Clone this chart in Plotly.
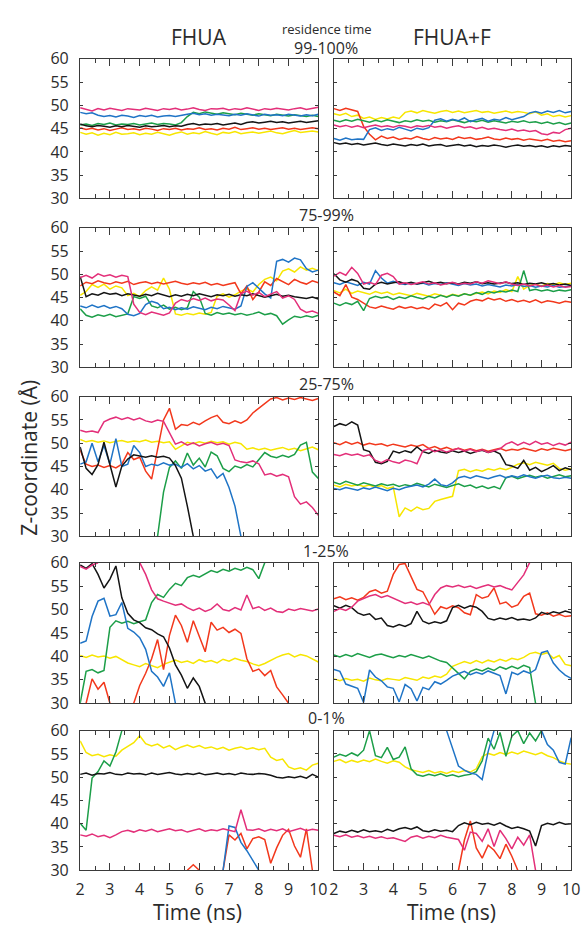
import plotly.graph_objects as go

N = None

# ---------------- time grid (ns) ----------------
T = [2.0, 2.2, 2.4, 2.6, 2.8, 3.0, 3.2, 3.4, 3.6, 3.8, 4.0, 4.2, 4.4, 4.6, 4.8,
     5.0, 5.2, 5.4, 5.6, 5.8, 6.0, 6.2, 6.4, 6.6, 6.8, 7.0, 7.2, 7.4, 7.6, 7.8,
     8.0, 8.2, 8.4, 8.6, 8.8, 9.0, 9.2, 9.4, 9.6, 9.8, 10.0]

ROW_LABELS = ["99-100%", "75-99%", "25-75%", "1-25%", "0-1%"]
COL_TITLES = ["FHUA", "FHUA+F"]
X_TICKS = [2, 3, 4, 5, 6, 7, 8, 9, 10]
Y_TICKS = [30, 35, 40, 45, 50, 55, 60]

# ---------------- row 1 : 99-100% ----------------
p1l_magenta = [49.5, 49.2, 48.8, 49.3, 49.0, 49.4, 49.1, 48.9, 49.3, 49.2, 49.0, 49.4, 49.2, 48.9, 49.3, 49.1, 49.4, 49.0, 49.2, 49.5, 49.1, 48.9, 49.3, 49.2, 49.4, 49.0, 49.3, 49.1, 49.5, 49.2, 48.9, 49.3, 49.1, 49.4, 49.2, 49.0, 49.3, 49.5, 49.1, 49.3, 49.6]
p1l_blue = [48.5, 48.2, 48.4, 47.9, 47.6, 47.8, 47.5, 47.9, 47.7, 47.4, 47.8, 47.6, 47.9, 47.5, 47.7, 47.8, 47.6, 47.9, 48.1, 48.3, 48.0, 48.2, 47.9, 48.1, 48.0, 47.8, 48.1, 47.9, 48.2, 48.0, 47.7, 48.1, 47.9, 48.0, 47.8, 48.1, 47.9, 47.7, 48.0, 47.8, 48.1]
p1l_green = [45.8, 46.0, 45.7, 46.1, 45.9, 46.2, 45.8, 46.0, 45.9, 46.1, 45.8, 46.0, 46.2, 45.9, 46.1, 46.0, 45.8, 46.3, 47.6, 48.5, 48.2, 48.6, 48.3, 48.1, 48.4, 48.2, 48.0, 48.3, 48.1, 47.9, 48.2, 48.0, 47.8, 48.1, 47.9, 47.7, 48.0, 47.8, 47.6, 47.9, 47.6]
p1l_black = [46.0, 45.6, 45.4, 45.7, 45.5, 45.3, 45.6, 45.4, 45.7, 45.5, 45.3, 45.6, 45.4, 45.5, 45.7, 45.4, 45.6, 45.5, 45.9, 46.1, 45.8, 46.0, 45.9, 46.1, 45.8, 46.0, 46.2, 45.9, 46.3, 46.5, 46.2, 46.4, 46.6, 46.3, 46.5, 46.2, 46.4, 46.6, 46.3, 46.5, 46.7]
p1l_red = [45.2, 44.8, 45.1, 44.7, 45.0, 44.6, 44.9, 45.2, 44.8, 45.0, 44.7, 45.1, 44.9, 44.6, 45.0, 44.8, 45.1, 44.7, 45.0, 44.9, 45.2, 44.8, 45.0, 44.7, 45.1, 44.9, 45.3, 44.8, 45.0, 45.2, 44.9, 45.1, 44.8, 45.0, 45.2, 44.9, 45.1, 44.8, 45.0, 45.2, 45.0]
p1l_yellow = [44.2, 43.8, 44.1, 43.6, 44.0, 43.7, 44.2, 43.8, 43.9, 44.1, 43.7, 44.0, 43.8, 44.2, 43.9, 43.6, 44.0, 44.3, 43.8, 44.1, 43.9, 44.4, 44.0, 43.7, 44.2, 44.0, 44.4, 43.9, 44.1, 44.3, 44.0, 44.2, 44.5, 44.1, 43.9, 44.3, 44.6, 44.2, 44.4, 44.5, 44.3]

p1r_red = [49.3, 48.9, 49.4, 49.0, 48.7, 45.5, 43.8, 42.6, 43.4, 42.9, 43.2, 42.7, 43.0, 42.8, 43.3, 42.9, 42.6, 43.1, 42.8, 43.0, 42.7, 43.2, 42.9, 43.1, 42.7, 42.9, 43.2, 42.8, 42.6, 43.0, 42.7, 42.9, 42.5, 42.8, 42.6, 42.4, 42.7, 42.3, 42.5, 42.2, 42.4]
p1r_yellow = [48.2, 47.9, 48.3, 47.6, 47.9, 47.2, 47.5, 47.0, 47.4, 47.1, 47.5, 47.2, 48.5, 48.8, 48.4, 48.9, 48.6, 48.3, 48.7, 48.9, 48.5, 48.8, 48.4, 48.6, 48.9, 48.5, 48.7, 48.3, 48.6, 48.8, 48.4, 48.7, 48.5, 48.2, 48.6, 47.9, 48.2, 47.6, 47.9, 47.5, 47.8]
p1r_green = [46.8, 46.5, 46.9, 46.6, 47.0, 46.7, 46.4, 46.8, 46.5, 46.9, 46.6, 46.3, 46.7, 46.5, 46.9, 46.6, 46.8, 46.4, 46.7, 46.5, 46.9, 46.6, 46.3, 46.7, 46.5, 46.8, 46.4, 46.7, 46.5, 46.2, 46.6, 46.4, 46.7, 46.3, 46.5, 46.1, 46.4, 46.0, 46.3, 45.9, 46.2]
p1r_blue = [42.9, 42.5, 43.0, 42.6, 42.8, 42.7, 44.8, 45.2, 44.6, 45.0, 44.7, 45.3, 44.9, 44.5, 45.1, 44.8, 45.2, 46.8, 47.1, 46.6, 47.0, 46.7, 47.3, 46.5, 46.9, 47.2, 46.6, 47.0, 46.8, 47.4, 46.9, 47.2, 47.6, 48.4, 48.7, 48.3, 48.8, 48.5, 48.9, 48.4, 48.7]
p1r_magenta = [45.8, 45.4, 45.7, 45.3, 45.6, 45.2, 45.5, 45.8, 45.4, 45.6, 45.3, 45.7, 45.5, 45.2, 45.6, 45.4, 45.7, 45.3, 45.5, 45.1, 45.4, 45.6, 45.2, 45.4, 45.0, 45.3, 44.9, 45.1, 44.8, 44.6, 44.9, 44.5, 44.7, 44.4, 44.6, 43.9, 43.7, 44.2, 44.0, 44.8, 45.1]
p1r_black = [42.0, 41.7, 41.9, 41.6, 41.8, 41.5, 41.7, 41.9, 41.6, 41.4, 41.7, 41.5, 41.3, 41.6, 41.4, 41.7, 41.3, 41.5, 41.6, 41.2, 41.4, 41.6, 41.3, 41.5, 41.1, 41.4, 41.2, 41.5, 41.3, 41.0, 41.3, 41.5, 41.2, 41.4, 41.1, 41.3, 41.0, 41.3, 41.1, 41.4, 41.2]

# ---------------- row 2 : 75-99% ----------------
p2l_magenta = [49.3, 49.8, 49.2, 50.1, 49.6, 49.9, 49.4, 49.8, 49.5, 43.6, 41.8, 41.3, 41.9, 41.5, 41.2, 41.7, 43.8, 44.6, 44.2, 44.8, 44.4, 44.9, 44.3, 44.7, 44.5, 43.4, 42.2, 45.8, 46.4, 45.5, 46.1, 45.2, 45.7, 46.3, 44.9, 45.4, 44.6, 42.5, 41.8, 42.1, 41.6]
p2l_red = [47.5, 48.3, 48.0, 48.6, 48.2, 47.9, 48.4, 48.1, 48.5, 47.8, 48.2, 48.4, 48.0, 48.3, 47.9, 48.2, 48.5, 48.1, 47.8, 48.2, 47.9, 48.3, 47.7, 48.0, 47.6, 47.9, 48.2, 45.8, 47.5, 44.6, 46.2, 48.4, 47.6, 49.1, 48.5, 47.8, 48.9, 48.3, 47.9, 48.6, 48.2]
p2l_yellow = [45.5, 46.3, 47.8, 47.2, 47.9, 46.8, 47.5, 47.1, 45.4, 45.9, 45.2, 46.5, 47.3, 46.6, 49.2, 46.8, 41.5, 41.2, 41.6, 41.3, 41.7, 41.4, 41.8, 45.3, 45.8, 45.1, 45.6, 46.4, 46.9, 46.2, 47.8, 48.9, 49.4, 48.6, 50.7, 51.2, 50.5, 51.6, 50.9, 51.3, 50.8]
p2l_black = [49.5, 45.2, 45.8, 45.5, 46.1, 45.7, 45.9, 45.4, 45.8, 45.6, 45.3, 45.7, 45.4, 45.9, 45.5, 45.2, 45.6, 45.3, 45.7, 45.4, 45.8, 45.5, 45.2, 45.6, 45.4, 45.7, 45.3, 45.6, 45.4, 45.8, 45.5, 45.1, 45.4, 45.7, 45.3, 45.5, 45.2, 45.0, 44.8, 45.1, 44.7]
p2l_blue = [43.2, 42.8, 43.4, 42.9, 43.3, 42.7, 43.1, 42.6, 41.4, 41.1, 41.6, 43.5, 44.2, 43.8, 42.6, 42.9, 42.4, 42.8, 42.5, 43.0, 42.7, 42.4, 42.9, 42.6, 43.1, 42.8, 42.5, 43.2, 47.4, 48.2, 46.9, 45.8, 44.9, 52.8, 53.2, 52.6, 53.5, 53.1, 51.2, 50.5, 50.9]
p2l_green = [42.6, 41.2, 40.8, 41.3, 41.0, 41.4, 40.9, 41.2, 41.5, 45.2, 44.8, 45.3, 43.2, 42.8, 43.4, 42.5, 42.9, 42.4, 42.8, 46.3, 45.1, 41.6, 41.2, 41.8, 41.4, 41.7, 41.3, 41.6, 41.2, 41.5, 41.9, 41.3, 41.6, 41.1, 39.3, 40.2, 41.0, 40.7, 41.1, 40.8, 41.2]

p2r_black = [50.1, 48.8, 48.3, 48.9, 48.5, 47.0, 46.8, 47.9, 48.3, 47.9, 48.2, 48.4, 48.0, 48.3, 47.9, 48.2, 48.5, 48.1, 48.3, 48.0, 48.2, 47.9, 48.3, 48.1, 48.4, 48.0, 48.2, 47.9, 48.1, 48.3, 48.0, 48.2, 47.8, 48.1, 47.9, 48.2, 47.8, 48.0, 47.7, 47.9, 47.6]
p2r_magenta = [49.6, 50.4, 49.8, 51.5, 50.2, 47.9, 48.3, 47.8, 49.8, 50.2, 49.5, 47.9, 48.2, 47.8, 48.1, 48.4, 47.9, 48.2, 47.7, 48.0, 48.3, 47.8, 48.1, 47.9, 48.4, 48.1, 48.6, 48.3, 48.0, 48.4, 47.9, 47.6, 47.9, 47.5, 47.8, 47.4, 47.7, 47.3, 47.6, 47.2, 47.4]
p2r_blue = [48.2, 47.8, 48.4, 48.0, 47.6, 48.3, 47.9, 50.8, 49.2, 48.1, 48.5, 48.0, 47.8, 48.2, 47.9, 48.1, 47.7, 48.0, 47.8, 48.2, 47.9, 47.6, 48.0, 47.7, 47.9, 47.5, 47.8, 47.6, 47.3, 47.7, 47.5, 47.8, 47.4, 47.6, 47.2, 47.5, 47.3, 47.6, 47.2, 47.4, 47.5]
p2r_yellow = [46.5, 46.0, 46.8, 45.9, 46.4, 46.1, 45.7, 46.3, 45.9, 46.2, 45.6, 46.0, 45.7, 45.4, 45.9, 45.6, 45.3, 45.8, 45.5, 45.2, 45.7, 45.4, 45.8, 45.5, 45.9, 46.2, 45.8, 46.4, 46.1, 46.7, 46.3, 49.5, 46.8, 47.6, 47.9, 47.5, 48.0, 47.7, 48.2, 47.8, 48.1]
p2r_green = [43.8, 43.3, 43.9, 43.5, 44.2, 42.2, 44.8, 45.3, 44.9, 45.2, 44.6, 45.1, 44.8, 45.4, 45.0, 44.7, 45.3, 44.9, 45.5, 45.1, 45.6, 45.3, 45.8, 45.5, 46.1, 45.7, 46.3, 46.0, 46.4, 46.2, 46.6, 46.3, 50.8, 46.5, 46.8, 46.4, 46.7, 46.3, 46.6, 46.4, 46.7]
p2r_red = [46.2, 45.4, 47.8, 45.1, 44.6, 43.8, 43.0, 42.7, 43.2, 42.8, 42.5, 43.1, 42.7, 43.0, 42.6, 42.9, 42.5, 43.6, 43.2, 43.9, 42.4, 43.8, 43.4, 44.2, 44.6, 44.3, 44.9, 44.5, 44.8, 44.2, 44.6, 44.1, 44.4, 44.0, 44.5, 43.9, 44.3, 44.1, 43.8, 44.2, 44.0]

# ---------------- row 3 : 25-75% ----------------
p3l_magenta = [52.8, 52.4, 52.6, 52.3, 54.6, 55.2, 55.6, 55.1, 55.5, 55.0, 55.4, 54.8, 54.5, 55.0, 54.7, 52.1, 49.8, 50.3, 49.6, 50.1, 49.4, 49.9, 50.2, 49.7, 50.0, 49.5, 46.4, 46.0, 45.8, 46.2, 45.6, 43.2, 43.5, 42.9, 43.3, 42.8, 38.5, 36.9, 37.4, 36.2, 34.5]
p3l_red = [48.5, 45.5, 45.0, 45.3, 44.8, 45.2, 44.7, 45.5, 48.0, 46.5, 47.0, 44.0, 42.3, 49.0, 55.0, 57.5, 53.0, 54.0, 53.8, 54.5, 54.0, 54.8, 55.5, 56.0, 54.5, 54.2, 54.8, 54.3, 55.0, 56.5, 57.5, 58.5, 59.5, 59.8, 59.3, 59.7, 59.4, 59.8, 59.5, 59.2, 59.6]
p3l_yellow = [50.8, 50.3, 50.6, 50.2, 50.5, 50.1, 50.4, 50.6, 50.2, 50.5, 50.3, 50.7, 50.2, 50.4, 50.1, 50.3, 48.7, 49.4, 50.2, 49.9, 50.3, 50.0, 50.4, 50.1, 50.3, 49.8, 50.2, 49.9, 48.7, 49.0, 48.6, 48.9, 48.5, 48.8, 49.1, 48.6, 48.9, 48.4, 48.8, 49.2, 48.6]
p3l_black = [49.2, 44.6, 43.3, 45.4, 50.2, 45.6, 40.6, 45.1, 46.6, 47.5, 47.2, 47.0, 47.3, 47.0, 47.2, 46.8, 45.2, 42.5, 36.5, 30.0, N, N, N, N, N, N, N, N, N, N, N, N, N, N, N, N, N, N, N, N, N]
p3l_blue = [45.5, 46.0, 50.0, 46.0, 49.5, 45.5, 51.0, 45.0, 45.5, 49.5, 48.0, 45.0, 45.5, 45.2, 45.8, 45.3, 45.5, 44.8, 45.6, 44.5, 45.2, 44.0, 44.5, 42.5, 43.5, 40.5, 36.5, 30.0, N, N, N, N, N, N, N, N, N, N, N, N, N]
p3l_green = [N, N, N, N, N, N, N, N, N, N, N, N, N, 30.0, 39.5, 44.8, 46.2, 44.6, 47.9, 45.3, 46.8, 44.9, 48.1, 47.3, 44.6, 43.9, 45.1, 44.7, 45.4, 44.9, 46.5, 48.0, 47.2, 46.9, 47.4, 47.0, 47.6, 49.6, 50.2, 43.8, 42.4]

p3r_black = [53.6, 54.2, 53.8, 54.6, 53.9, 48.6, 48.2, 45.9, 45.6, 46.1, 48.3, 47.9, 48.4, 48.0, 49.2, 48.2, 47.8, 48.5, 48.1, 47.9, 48.4, 48.0, 48.3, 47.8, 48.2, 48.5, 48.0, 48.3, 47.7, 45.4, 45.1, 44.6, 46.3, 44.2, 44.8, 43.9, 44.5, 45.2, 44.1, 44.7, 44.3]
p3r_red = [50.1, 49.7, 50.3, 49.8, 50.2, 49.6, 50.0, 49.7, 49.9, 49.4, 49.8, 49.5, 49.2, 49.6, 49.3, 49.7, 48.9, 49.3, 48.7, 49.1, 48.6, 48.9, 48.5, 48.8, 48.4, 48.7, 48.3, 48.6, 48.9, 48.4, 48.7, 48.5, 48.9, 48.6, 48.3, 48.8, 48.5, 48.9, 48.6, 48.4, 48.7]
p3r_magenta = [47.6, 47.3, 47.8, 47.4, 47.7, 47.2, 47.5, 46.3, 45.8, 46.5, 46.0, 45.7, 46.4, 46.1, 45.6, 48.4, 48.8, 48.2, 48.6, 48.1, 48.5, 48.9, 48.3, 48.7, 48.2, 48.6, 48.0, 48.4, 48.8, 49.8, 50.3, 49.6, 50.2, 49.7, 50.4, 49.8, 50.1, 49.5, 50.0, 49.6, 50.2]
p3r_yellow = [41.0, 40.6, 41.2, 40.8, 41.1, 40.7, 41.0, 40.5, 40.9, 40.3, 40.6, 34.2, 36.1, 35.4, 36.3, 35.7, 36.0, 37.5, 37.9, 38.2, 38.6, 44.1, 44.4, 43.9, 44.3, 44.0, 44.5, 44.2, 44.6, 44.3, 44.8, 45.5, 45.8, 45.4, 45.9, 45.6, 45.3, 45.7, 44.6, 44.2, 44.5]
p3r_blue = [40.3, 40.0, 40.5, 40.2, 39.9, 40.4, 40.1, 40.6, 40.2, 39.8, 40.3, 40.0, 40.5, 40.7, 41.0, 40.6, 41.2, 42.3, 41.1, 40.8, 41.5, 42.6, 42.9, 42.5, 43.0, 42.7, 42.4, 42.8, 43.1, 42.6, 43.0, 42.7, 43.2, 42.8, 42.5, 42.9, 43.1, 42.6, 42.4, 42.7, 42.5]
p3r_green = [41.6, 41.2, 41.8, 41.4, 41.0, 41.5, 41.1, 40.8, 41.3, 40.9, 41.2, 40.7, 41.1, 40.8, 41.4, 41.0, 40.6, 41.2, 40.8, 40.5, 40.9, 41.3, 40.7, 41.0, 40.4, 40.8, 40.3, 40.7, 40.2, 42.6, 42.9, 42.4, 42.8, 43.1, 42.7, 43.0, 42.5, 42.9, 43.2, 42.8, 43.0]

# ---------------- row 4 : 1-25% ----------------
p4l_black = [59.5, 58.8, 59.8, 57.5, 54.6, 56.5, 59.3, 52.5, 49.2, 47.8, 47.2, 46.1, 45.7, 44.8, 44.2, 41.8, 38.2, 36.0, 33.2, 35.4, 33.6, 30.0, N, N, N, N, N, N, N, N, N, N, N, N, N, N, N, N, N, N, N]
p4l_magenta = [59.2, 58.6, 59.5, 60.0, N, N, N, N, N, N, 60.0, 57.5, 54.2, 52.3, 51.8, 51.4, 50.9, 51.2, 50.4, 49.8, 50.3, 49.6, 50.1, 51.2, 50.0, 49.7, 50.4, 49.9, 53.1, 50.2, 50.6, 49.8, 50.3, 49.6, 49.4, 50.1, 49.8, 50.2, 50.0, 49.7, 50.1]
p4l_green = [30.0, 36.8, 37.2, 36.5, 37.0, 46.2, 47.6, 47.1, 47.5, 47.0, 47.4, 47.8, 51.5, 53.2, 52.6, 54.3, 55.6, 55.1, 56.8, 57.3, 56.9, 57.6, 58.3, 57.9, 58.6, 58.2, 58.8, 58.4, 59.0, 58.5, 56.6, 60.0, N, N, N, N, N, N, N, N, N]
p4l_blue = [42.8, 43.3, 48.5, 51.8, 52.4, 48.6, 48.9, 51.5, 46.0, 45.2, 44.0, 41.5, 36.8, 35.6, 33.6, 36.5, 30.0, N, N, N, N, N, N, N, N, N, N, N, N, N, N, N, N, N, N, N, N, N, N, N, N]
p4l_red = [N, 30.0, 35.2, 33.0, 34.5, 30.0, N, N, N, 30.0, 33.8, 36.4, 39.5, 43.6, 37.2, 44.5, 48.8, 46.6, 43.0, 47.6, 44.2, 41.0, 47.3, 45.6, 46.2, 45.1, 45.8, 44.9, 39.5, 36.8, 37.3, 35.9, 37.0, 33.5, 31.8, 30.0, N, N, N, N, N]
p4l_yellow = [40.2, 39.8, 40.3, 39.9, 40.1, 39.6, 40.0, 39.3, 38.6, 38.2, 37.8, 38.5, 38.1, 37.6, 38.3, 38.8, 39.2, 38.7, 39.0, 38.5, 39.3, 38.8, 39.1, 38.6, 39.4, 39.0, 39.6, 39.2, 38.9, 38.4, 38.0, 38.5, 39.2, 39.8, 40.3, 40.6, 39.9, 40.4, 40.1, 39.5, 38.8]

p4r_red = [52.3, 52.7, 52.1, 52.5, 52.0, 52.6, 53.8, 54.2, 53.5, 53.9, 57.5, 59.6, 59.8, 57.0, 54.3, 53.8, 51.5, 49.0, 50.6, 50.2, 50.8, 50.4, 49.3, 48.9, 53.2, 52.4, 52.8, 54.6, 51.2, 51.6, 50.5, 51.0, 52.8, 53.5, 49.1, 48.8, 49.3, 48.6, 49.0, 48.5, 48.7]
p4r_magenta = [49.6, 50.2, 49.8, 50.5, 51.8, 52.3, 52.9, 53.2, 52.6, 53.0, 52.4, 51.8, 51.3, 51.6, 51.1, 51.5, 51.0, 53.2, 54.6, 55.1, 54.8, 55.2, 54.7, 55.0, 54.5, 54.9, 55.3, 54.8, 55.1, 54.6, 54.2, 55.8, 57.4, 60.0, N, N, N, N, N, N, N]
p4r_black = [50.8, 50.3, 50.9, 50.4, 49.3, 48.8, 49.1, 47.9, 48.2, 46.6, 46.3, 46.8, 46.4, 47.0, 49.6, 47.5, 47.0, 47.4, 47.1, 47.6, 50.4, 50.9, 50.3, 50.8, 50.5, 49.6, 48.1, 47.8, 48.2, 47.9, 48.3, 47.8, 48.0, 47.7, 48.2, 49.4, 49.0, 49.5, 49.2, 49.7, 49.3]
p4r_green = [40.3, 39.9, 40.4, 40.0, 40.6, 40.2, 39.8, 40.3, 40.5, 40.1, 39.7, 40.2, 39.9, 40.4, 40.0, 39.6, 40.1, 39.5, 39.0, 38.7, 37.6, 36.4, 35.2, 36.8, 37.3, 36.9, 37.5, 37.0, 37.8, 37.3, 37.9, 37.4, 38.1, 37.6, 30.0, N, N, N, N, N, N]
p4r_yellow = [35.2, 34.8, 35.3, 34.9, 35.1, 34.7, 35.4, 35.0, 34.8, 35.3, 35.1, 34.9, 35.5, 35.2, 34.9, 35.6, 35.3, 35.8, 35.5, 36.2, 37.9, 38.4, 38.9, 38.5, 39.1, 38.6, 39.2, 38.8, 39.4, 39.0, 39.6, 39.3, 39.8, 40.6, 40.9, 40.4, 40.8, 39.6, 40.2, 38.3, 38.0]
p4r_blue = [37.2, 36.8, 34.1, 33.7, 33.2, 30.2, 37.1, 35.6, 34.8, 33.5, 33.2, 30.3, 34.0, 33.1, 30.5, 33.4, 32.9, 34.6, 34.1, 34.9, 35.8, 36.3, 36.8, 36.1, 36.6, 36.2, 36.9, 36.4, 35.9, 32.0, 36.6, 36.1, 36.9, 36.4, 37.2, 40.8, 41.2, 38.6, 37.1, 36.0, 35.3]

# ---------------- row 5 : 0-1% ----------------
p5l_yellow = [57.8, 55.3, 54.6, 54.9, 54.4, 54.8, 54.5, 55.8, 56.6, 57.4, 58.9, 57.2, 56.7, 57.1, 56.3, 56.8, 55.9, 56.5, 56.9, 56.4, 56.8, 56.2, 56.5, 56.0, 56.4, 55.8, 56.2, 56.5, 56.0, 56.3, 55.9, 56.2, 54.3, 53.6, 53.9, 52.2, 51.7, 52.0, 51.5, 52.6, 53.0]
p5l_green = [40.1, 38.6, 49.8, 51.2, 53.5, 52.4, 55.4, 60.0, N, N, N, N, N, N, N, N, N, N, N, N, N, N, N, N, N, N, N, N, N, N, N, N, N, N, N, N, N, N, N, N, N]
p5l_black = [50.6, 50.9, 50.4, 50.8, 50.7, 51.0, 50.6, 50.5, 50.9, 50.7, 50.8, 50.5, 50.9, 50.6, 50.8, 51.0, 50.7, 50.5, 50.8, 50.6, 50.9, 50.5, 50.7, 50.9, 50.6, 50.8, 50.5, 50.9, 50.7, 50.6, 50.8, 50.7, 50.4, 50.0, 49.8, 50.1, 49.9, 50.2, 49.8, 50.6, 50.0]
p5l_magenta = [37.6, 37.3, 37.8, 37.2, 37.5, 37.0, 37.6, 38.3, 38.6, 38.2, 38.7, 38.4, 38.8, 38.3, 38.6, 38.9, 38.5, 38.7, 38.2, 38.6, 38.9, 38.4, 38.7, 38.5, 38.9, 38.6, 38.3, 43.0, 38.7, 38.6, 38.9, 38.4, 38.8, 38.5, 38.9, 38.3, 38.7, 39.0, 38.5, 38.8, 38.6]
p5l_blue = [N, N, N, N, N, N, N, N, N, N, N, N, N, N, N, N, N, N, N, N, N, N, N, N, 30.0, 39.5, 39.2, 36.0, 34.2, 32.0, 30.0, N, N, N, N, N, N, N, N, N, N]
p5l_red = [N, N, N, N, N, N, N, N, N, N, N, N, N, N, N, N, N, N, 30.0, 31.2, 30.0, N, N, N, 30.0, 37.6, 36.5, 37.9, 34.6, 36.8, 37.2, 36.6, 31.5, 34.8, 37.5, 38.8, 35.2, 32.8, 38.9, 30.0, N]

p5r_green = [54.3, 54.9, 54.5, 55.2, 54.6, 55.8, 60.0, 54.6, 54.2, 56.4, 53.8, 54.3, 56.5, 51.8, 50.5, 50.2, 50.6, 50.3, 50.7, 50.2, 50.5, 50.1, 50.4, 50.6, 51.2, 53.5, 58.4, 56.0, 59.6, 54.5, 58.8, 60.0, 57.2, 59.5, 57.8, 60.0, N, N, N, N, N]
p5r_yellow = [53.4, 53.8, 53.1, 53.6, 53.2, 53.7, 53.3, 53.9, 53.4, 53.0, 53.5, 53.2, 52.2, 51.6, 51.3, 51.0, 51.4, 50.9, 51.2, 50.8, 51.3, 51.0, 51.4, 51.1, 51.8, 54.4, 55.1, 54.7, 55.3, 54.9, 55.4, 55.0, 55.6, 55.2, 54.8, 55.3, 54.6, 54.2, 53.5, 53.0, 52.8]
p5r_blue = [N, N, N, N, N, N, N, N, N, N, N, N, N, N, N, N, N, N, N, 60.0, 56.2, 52.4, 51.5, 50.9, 50.6, 49.5, 55.5, 60.0, N, N, N, N, N, N, N, 60.0, 57.0, 55.8, 53.2, 52.8, 58.5]
p5r_black = [37.9, 38.4, 38.1, 38.6, 38.2, 38.7, 38.3, 38.5, 38.2, 38.8, 38.4, 38.9, 39.2, 38.8, 39.3, 38.5, 38.3, 38.7, 38.4, 38.6, 38.3, 39.6, 40.2, 39.8, 40.3, 39.9, 40.1, 39.7, 40.2, 39.5, 39.0, 39.3, 38.9, 38.4, 35.2, 39.6, 40.1, 39.8, 40.3, 39.9, 40.0]
p5r_magenta = [37.5, 37.2, 37.6, 37.1, 37.4, 37.0, 37.3, 36.9, 37.2, 36.8, 37.0, 36.6, 36.2, 37.1, 37.4, 36.9, 37.3, 37.0, 37.5, 37.1, 36.9, 36.6, 34.3, 38.2, 37.9, 36.2, 38.9, 35.1, 38.6, 36.8, 34.6, 37.1, 35.4, 37.6, 30.0, N, N, N, N, N, N]
p5r_red = [N, N, N, N, N, N, N, N, N, N, N, N, N, N, N, N, N, N, N, N, N, 30.0, 36.5, 40.6, 34.8, 32.6, 35.4, 34.3, 32.5, 35.6, 33.0, 30.0, N, N, N, N, N, N, N, N, N]

# ---------------- styling ----------------
COLORS = {
    "black": "#141414",
    "blue": "#1f74c6",
    "green": "#1c9e48",
    "red": "#f2381c",
    "magenta": "#e32f79",
    "yellow": "#f7e600",
}
ORDER = ["yellow", "red", "green", "blue", "black", "magenta"]

PANELS = [
    [dict(magenta=p1l_magenta, blue=p1l_blue, green=p1l_green, black=p1l_black, red=p1l_red, yellow=p1l_yellow),
     dict(red=p1r_red, yellow=p1r_yellow, green=p1r_green, blue=p1r_blue, magenta=p1r_magenta, black=p1r_black)],
    [dict(magenta=p2l_magenta, red=p2l_red, yellow=p2l_yellow, black=p2l_black, blue=p2l_blue, green=p2l_green),
     dict(black=p2r_black, magenta=p2r_magenta, blue=p2r_blue, yellow=p2r_yellow, green=p2r_green, red=p2r_red)],
    [dict(magenta=p3l_magenta, red=p3l_red, yellow=p3l_yellow, black=p3l_black, blue=p3l_blue, green=p3l_green),
     dict(black=p3r_black, red=p3r_red, magenta=p3r_magenta, yellow=p3r_yellow, blue=p3r_blue, green=p3r_green)],
    [dict(black=p4l_black, magenta=p4l_magenta, green=p4l_green, blue=p4l_blue, red=p4l_red, yellow=p4l_yellow),
     dict(red=p4r_red, magenta=p4r_magenta, black=p4r_black, green=p4r_green, yellow=p4r_yellow, blue=p4r_blue)],
    [dict(yellow=p5l_yellow, green=p5l_green, black=p5l_black, magenta=p5l_magenta, blue=p5l_blue, red=p5l_red),
     dict(green=p5r_green, yellow=p5r_yellow, blue=p5r_blue, black=p5r_black, magenta=p5r_magenta, red=p5r_red)],
]

for r, row in enumerate(PANELS):
    for c, series in enumerate(row):
        for name, vals in series.items():
            assert len(vals) == len(T), f"row {r} col {c} {name}: {len(vals)}"

W, H = 586, 933
FONT = "Open Sans, Noto Sans, sans-serif"
AX = "#3a3a3a"
TXT = "#2b2b2b"
COLS_PX = [(77, 321), (337, 580)]
ROWS_PX = [(49, 192), (222, 365), (395, 538), (565, 709), (737, 880)]
LABEL_Y_PX = [38, 209, 382, 553, 724]

fig = go.Figure()
layout = {}
for r, (top, bot) in enumerate(ROWS_PX):
    for c, (x0, x1) in enumerate(COLS_PX):
        k = r * 2 + c + 1
        xs = "" if k == 1 else str(k)
        for name in ORDER:
            vals = PANELS[r][c].get(name)
            if vals is None:
                continue
            fig.add_trace(go.Scatter(
                x=T, y=vals, mode="lines", xaxis="x" + xs, yaxis="y" + xs,
                line=dict(color=COLORS[name], width=1.5), showlegend=False,
                connectgaps=False, hoverinfo="skip"))
        layout["xaxis" + xs] = dict(
            domain=[x0 / W, x1 / W], anchor="y" + xs, range=[2, 10],
            showgrid=False, zeroline=False, showline=True, linecolor=AX,
            linewidth=1.4, mirror="ticks", ticks="inside", ticklen=7,
            tickwidth=1.3, tickcolor=AX, tickmode="array", tickvals=X_TICKS,
            ticktext=[str(v) for v in X_TICKS],
            showticklabels=(r == len(ROWS_PX) - 1),
            tickfont=dict(family=FONT, size=16, color=TXT),
            ticklabelstandoff=4,
            minor=dict(ticks="inside", ticklen=4, tickwidth=1.1, tickcolor=AX,
                       dtick=0.5, tick0=2.0, showgrid=False))
        layout["yaxis" + xs] = dict(
            domain=[1 - bot / H, 1 - top / H], anchor="x" + xs, range=[30, 60],
            showgrid=False, zeroline=False, showline=True, linecolor=AX,
            linewidth=1.4, mirror="ticks", ticks="inside", ticklen=3,
            tickwidth=1.2, tickcolor=AX, tickmode="array", tickvals=Y_TICKS,
            ticktext=[str(v) for v in Y_TICKS], showticklabels=(c == 0),
            tickfont=dict(family=FONT, size=16, color=TXT),
            ticklabelstandoff=7)

ann = []
def add_text(text, xpx, ypx, size, angle=0, yanchor="middle"):
    ann.append(dict(text=text, x=xpx / W, y=1 - ypx / H, xref="paper",
                    yref="paper", showarrow=False, xanchor="center",
                    yanchor=yanchor, textangle=angle,
                    font=dict(family=FONT, size=size, color=TXT)))

add_text(COL_TITLES[0], 199, 27, 21)
add_text(COL_TITLES[1], 458, 27, 21)
add_text("residence time", 329, 18, 13)
for lbl, ypx in zip(ROW_LABELS, LABEL_Y_PX):
    add_text(lbl, 329, ypx, 16)
add_text("Z-coordinate (Å)", 25, 457, 21, angle=-90)
add_text("Time (ns)", 197, 906, 21, yanchor="top")
add_text("Time (ns)", 457, 906, 21, yanchor="top")

fig.update_layout(
    width=W, height=H, margin=dict(l=0, r=0, t=0, b=0),
    paper_bgcolor="white", plot_bgcolor="white", annotations=ann,
    font=dict(family=FONT, color=TXT), **layout)

fig.write_html("out.html")
